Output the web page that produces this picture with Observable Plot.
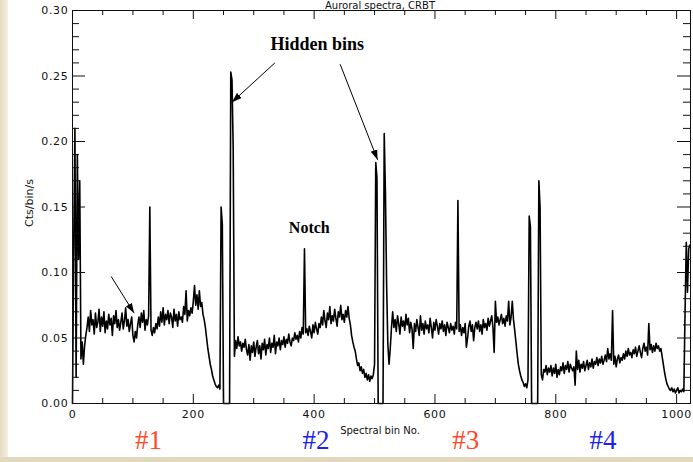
<!DOCTYPE html>
<html>
<head>
<meta charset="utf-8">
<script src="https://cdn.jsdelivr.net/npm/d3@7"></script>
<script src="https://cdn.jsdelivr.net/npm/@observablehq/plot@0.6"></script>
<style>
  html, body { margin: 0; padding: 0; background: #fff; }
  #wrap { position: relative; width: 693px; height: 462px; background: #e2d8bd; overflow: hidden; }
  #leftstrip { position: absolute; left: 0; top: 0; width: 8px; height: 457px; background: linear-gradient(to right, #e6dcc2, #f4efe0); }
  #paper { position: absolute; left: 8px; top: 0; right: 0; height: 457px; background: #ffffff; }
  #chart { position: absolute; left: 0; top: 0; }
  #chart g[aria-label="y-axis tick label"] text,
  #chart g[aria-label="x-axis tick label"] text { letter-spacing: 0.7px; }
</style>
</head>
<body>
<div id="wrap">
  <div id="leftstrip"></div>
  <div id="paper"></div>
  <div id="chart"></div>
</div>
<script>
// Spectrum (counts / bin / s), one value every 2 spectral bins, starting at bin 0
const binStep = 2;
const counts = [
  0.000, 0.120, 0.210, 0.020, 0.190, 0.110, 0.170, 0.034, 0.047, 0.030, // 0-18
  0.044, 0.052, 0.058, 0.066, 0.055, 0.071, 0.060, 0.064, 0.053, 0.069, // 20-38
  0.058, 0.062, 0.072, 0.055, 0.066, 0.059, 0.070, 0.054, 0.063, 0.057, // 40-58
  0.068, 0.060, 0.065, 0.052, 0.067, 0.061, 0.071, 0.058, 0.064, 0.056, // 60-78
  0.062, 0.069, 0.057, 0.063, 0.073, 0.059, 0.064, 0.055, 0.061, 0.066, // 80-98
  0.052, 0.047, 0.055, 0.050, 0.060, 0.066, 0.058, 0.069, 0.062, 0.071, // 100-118
  0.056, 0.064, 0.060, 0.067, 0.150, 0.056, 0.052, 0.058, 0.054, 0.061, // 120-138
  0.057, 0.066, 0.059, 0.070, 0.062, 0.073, 0.060, 0.068, 0.064, 0.071, // 140-158
  0.061, 0.069, 0.066, 0.058, 0.072, 0.063, 0.068, 0.059, 0.070, 0.064, // 160-178
  0.066, 0.062, 0.074, 0.068, 0.086, 0.063, 0.071, 0.067, 0.073, 0.069, // 180-198
  0.078, 0.090, 0.075, 0.083, 0.072, 0.086, 0.074, 0.077, 0.068, 0.064, // 200-218
  0.058, 0.050, 0.042, 0.036, 0.030, 0.026, 0.021, 0.018, 0.015, 0.013, // 220-238
  0.012, 0.014, 0.011, 0.150, 0.137, 0.000, 0.000, 0.000, 0.000, 0.000, // 240-258
  0.000, 0.253, 0.247, 0.195, 0.036, 0.048, 0.042, 0.051, 0.044, 0.047, // 260-278
  0.040, 0.046, 0.043, 0.049, 0.041, 0.037, 0.045, 0.033, 0.044, 0.039, // 280-298
  0.047, 0.036, 0.043, 0.048, 0.038, 0.044, 0.034, 0.046, 0.041, 0.049, // 300-318
  0.037, 0.045, 0.042, 0.050, 0.039, 0.046, 0.043, 0.052, 0.038, 0.047, // 320-338
  0.044, 0.050, 0.041, 0.048, 0.045, 0.051, 0.043, 0.049, 0.046, 0.053, // 340-358
  0.047, 0.044, 0.050, 0.048, 0.054, 0.049, 0.052, 0.047, 0.055, 0.050, // 360-378
  0.058, 0.053, 0.118, 0.054, 0.057, 0.052, 0.059, 0.055, 0.050, 0.060, // 380-398
  0.054, 0.062, 0.057, 0.053, 0.061, 0.058, 0.066, 0.060, 0.071, 0.063, // 400-418
  0.058, 0.069, 0.064, 0.074, 0.061, 0.067, 0.063, 0.072, 0.065, 0.059, // 420-438
  0.070, 0.066, 0.075, 0.064, 0.068, 0.062, 0.071, 0.066, 0.074, 0.065, // 440-458
  0.060, 0.052, 0.047, 0.043, 0.040, 0.034, 0.029, 0.031, 0.025, 0.028, // 460-478
  0.023, 0.026, 0.020, 0.023, 0.018, 0.022, 0.017, 0.021, 0.019, 0.022, // 480-498
  0.030, 0.184, 0.172, 0.000, 0.000, 0.000, 0.000, 0.000, 0.206, 0.161, // 500-518
  0.090, 0.045, 0.030, 0.042, 0.058, 0.070, 0.058, 0.064, 0.055, 0.067, // 520-538
  0.061, 0.053, 0.066, 0.059, 0.063, 0.056, 0.068, 0.060, 0.065, 0.054, // 540-558
  0.062, 0.057, 0.042, 0.061, 0.055, 0.064, 0.058, 0.052, 0.067, 0.056, // 560-578
  0.061, 0.053, 0.063, 0.057, 0.060, 0.054, 0.065, 0.058, 0.050, 0.062, // 580-598
  0.056, 0.064, 0.059, 0.053, 0.061, 0.057, 0.063, 0.055, 0.060, 0.052, // 600-618
  0.062, 0.058, 0.054, 0.061, 0.056, 0.059, 0.053, 0.062, 0.057, 0.155, // 620-638
  0.055, 0.060, 0.052, 0.058, 0.054, 0.061, 0.043, 0.050, 0.059, 0.063, // 640-658
  0.055, 0.060, 0.048, 0.058, 0.062, 0.057, 0.063, 0.055, 0.060, 0.053, // 660-678
  0.064, 0.058, 0.061, 0.056, 0.065, 0.059, 0.063, 0.067, 0.058, 0.039, // 680-698
  0.078, 0.062, 0.066, 0.060, 0.064, 0.068, 0.061, 0.065, 0.059, 0.067, // 700-718
  0.063, 0.078, 0.060, 0.066, 0.078, 0.064, 0.056, 0.047, 0.038, 0.030, // 720-738
  0.025, 0.021, 0.018, 0.016, 0.013, 0.015, 0.012, 0.018, 0.143, 0.135, // 740-758
  0.000, 0.000, 0.000, 0.000, 0.000, 0.000, 0.170, 0.150, 0.022, 0.018, // 760-778
  0.026, 0.024, 0.029, 0.022, 0.027, 0.024, 0.029, 0.021, 0.027, 0.023, // 780-798
  0.030, 0.020, 0.026, 0.022, 0.028, 0.025, 0.031, 0.023, 0.029, 0.026, // 800-818
  0.032, 0.024, 0.030, 0.027, 0.025, 0.028, 0.014, 0.040, 0.026, 0.033, // 820-838
  0.024, 0.030, 0.027, 0.032, 0.025, 0.029, 0.033, 0.026, 0.031, 0.028, // 840-858
  0.034, 0.027, 0.032, 0.030, 0.035, 0.029, 0.034, 0.031, 0.036, 0.030, // 860-878
  0.033, 0.037, 0.032, 0.042, 0.034, 0.038, 0.033, 0.071, 0.030, 0.036, // 880-898
  0.028, 0.034, 0.037, 0.031, 0.035, 0.033, 0.038, 0.034, 0.040, 0.036, // 900-918
  0.042, 0.037, 0.039, 0.035, 0.041, 0.038, 0.043, 0.036, 0.040, 0.044, // 920-938
  0.039, 0.035, 0.042, 0.046, 0.040, 0.043, 0.037, 0.061, 0.041, 0.045, // 940-958
  0.039, 0.044, 0.040, 0.046, 0.042, 0.044, 0.040, 0.042, 0.036, 0.030, // 960-978
  0.024, 0.019, 0.015, 0.013, 0.011, 0.010, 0.012, 0.009, 0.011, 0.008, // 980-998
  0.010, 0.012, 0.008, 0.010, 0.009, 0.011, 0.009, 0.070, 0.123, 0.085, // 1000-1018
  0.118, 0.121                                                          // 1020-1022
];
const bins = counts.map((_, i) => i * binStep);

// Axes
const xTicks = [0, 200, 400, 600, 800, 1000];
const xMinorTicks = [50, 100, 150, 250, 300, 350, 450, 500, 550, 650, 700, 750, 850, 900, 950];
const yTicks = [0, 0.05, 0.10, 0.15, 0.20, 0.25, 0.30];
const yMinorTicks = [0.01, 0.02, 0.03, 0.04, 0.06, 0.07, 0.08, 0.09, 0.11, 0.12, 0.13, 0.14,
                     0.16, 0.17, 0.18, 0.19, 0.21, 0.22, 0.23, 0.24, 0.26, 0.27, 0.28, 0.29];
const xLabel = "Spectral bin No.";
const yLabel = "Cts/bin/s";
const titleText = "Auroral spectra, CRBT";

// Annotations (in data coordinates)
const notes = [
  {text: "Hidden bins", x: 405, y: 0.274, size: 18},
  {text: "Notch", x: 392, y: 0.134, size: 16}
];
const arrows = [
  {x1: 335, y1: 0.260, x2: 264, y2: 0.230},
  {x1: 443, y1: 0.259, x2: 505, y2: 0.186},
  {x1: 64, y1: 0.097, x2: 102, y2: 0.069}
];
const segmentLabels = [
  {text: "#1", x: 126, color: "#ff4a2a"},
  {text: "#2", x: 403, color: "#2020f0"},
  {text: "#3", x: 651, color: "#ff4a2a"},
  {text: "#4", x: 878, color: "#2020f0"}
];

const W = 693, H = 462, mL = 72, mR = 3, mT = 10, mB = 59;
const plotW = W - mL - mR, plotH = H - mT - mB;

function headMarker(color, context) {
  const doc = (context && context.document) || document;
  const ns = "http://www.w3.org/2000/svg";
  const m = doc.createElementNS(ns, "marker");
  m.setAttribute("viewBox", "-10 -4 10 8");
  m.setAttribute("markerWidth", 10);
  m.setAttribute("markerHeight", 8);
  m.setAttribute("markerUnits", "userSpaceOnUse");
  m.setAttribute("orient", "auto");
  m.setAttribute("fill", "#000");
  m.setAttribute("stroke", "none");
  const p = doc.createElementNS(ns, "path");
  p.setAttribute("d", "M-10,-3.5L0,0L-10,3.5Z");
  m.appendChild(p);
  return m;
}

const tickStyle = {stroke: "#111", strokeWidth: 1};

const chart = Plot.plot({
  width: W, height: H,
  marginLeft: mL, marginRight: mR, marginTop: mT, marginBottom: mB,
  style: {background: "transparent", fontFamily: "DejaVu Sans, sans-serif", color: "#111"},
  x: {domain: [0, 1023]},
  y: {domain: [0, 0.30]},
  marks: [
    // spectrum
    Plot.line(bins, {x: (d) => d, y: (d, i) => counts[i], stroke: "#000", strokeWidth: 1.6}),
    // frame and IDL-style inward ticks on all four sides
    Plot.frame({stroke: "#111", strokeWidth: 1}),
    Plot.ruleX(xTicks, {x: (d) => d, insetTop: plotH - 9, ...tickStyle}),
    Plot.ruleX(xTicks, {x: (d) => d, insetBottom: plotH - 9, ...tickStyle}),
    Plot.ruleX(xMinorTicks, {x: (d) => d, insetTop: plotH - 5, ...tickStyle}),
    Plot.ruleX(xMinorTicks, {x: (d) => d, insetBottom: plotH - 5, ...tickStyle}),
    Plot.ruleY(yTicks, {y: (d) => d, insetRight: plotW - 13, ...tickStyle}),
    Plot.ruleY(yTicks, {y: (d) => d, insetLeft: plotW - 13, ...tickStyle}),
    Plot.ruleY(yMinorTicks, {y: (d) => d, insetRight: plotW - 7, ...tickStyle}),
    Plot.ruleY(yMinorTicks, {y: (d) => d, insetLeft: plotW - 7, ...tickStyle}),
    Plot.axisX(xTicks, {tickSize: 0, tickPadding: 7, fontSize: 11, tickFormat: (d) => String(d), label: null, fill: "#111"}),
    Plot.axisY(yTicks, {tickSize: 0, tickPadding: 4, fontSize: 11, tickFormat: (d) => d.toFixed(2), label: null, fill: "#111"}),
    // axis titles and plot title
    Plot.text([xLabel], {x: 509, y: -0.0205, text: (d) => d, fontSize: 10, fill: "#111"}),
    Plot.text([yLabel], {x: -71, y: 0.153, text: (d) => d, fontSize: 11, rotate: -90, fill: "#111"}),
    Plot.text([titleText], {x: 509, y: 0.30, dy: -2, lineAnchor: "bottom", text: (d) => d, fontSize: 10, fill: "#111"}),
    // annotations
    Plot.link(arrows, {x1: "x1", y1: "y1", x2: "x2", y2: "y2", stroke: "#000", strokeWidth: 1, markerEnd: headMarker}),
    Plot.text(notes, {x: "x", y: "y", text: "text", fontSize: (d) => d.size, fontWeight: "bold",
      fontFamily: "Liberation Serif, Times New Roman, serif", fill: "#000"}),
    Plot.text(segmentLabels, {x: "x", y: -0.028, text: "text", fill: (d) => d.color, fontSize: 27,
      fontFamily: "Liberation Serif, Times New Roman, serif"})
  ]
});
chart.style.overflow = "hidden";
document.getElementById("chart").appendChild(chart);
</script>
</body>
</html>
